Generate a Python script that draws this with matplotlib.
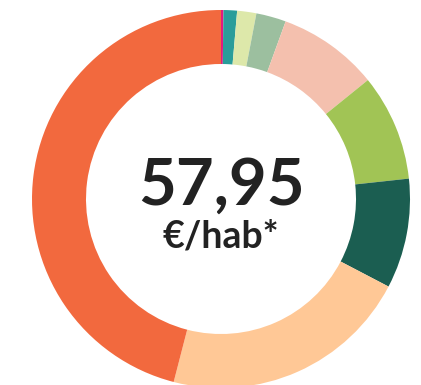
import matplotlib.pyplot as plt

# spending per inhabitant, split by item (€/hab), clockwise from the top
values = [0.12, 0.67, 0.95, 1.48, 4.99, 5.28, 5.44, 12.38, 26.64]
colors = ["#E5197E", "#2A9D9A", "#DDE8AA", "#9CBF9F", "#F4C0AE",
          "#A1C455", "#1B5E51", "#FFC896", "#F2693E"]
total_label = "57,95"
unit_label = "€/hab*"

fig = plt.figure(figsize=(4.21, 3.85), dpi=100)
ax = fig.add_axes([0, 0, 1, 1])

ax.pie(values, colors=colors, radius=189, startangle=90, counterclock=False,
       center=(0, 0), wedgeprops=dict(width=54, edgecolor="none"))

ax.text(0, -6, total_label, ha="center", va="baseline", fontsize=47,
        fontweight="bold", color="#222222", family="Lato")
ax.text(0, -48, unit_label, ha="center", va="baseline", fontsize=27,
        fontweight="bold", color="#222222", family="Lato")

ax.set_xlim(-221, 200)
ax.set_ylim(-186, 199)
ax.set_aspect("equal")
ax.axis("off")

fig.savefig("out.png", dpi=100)
